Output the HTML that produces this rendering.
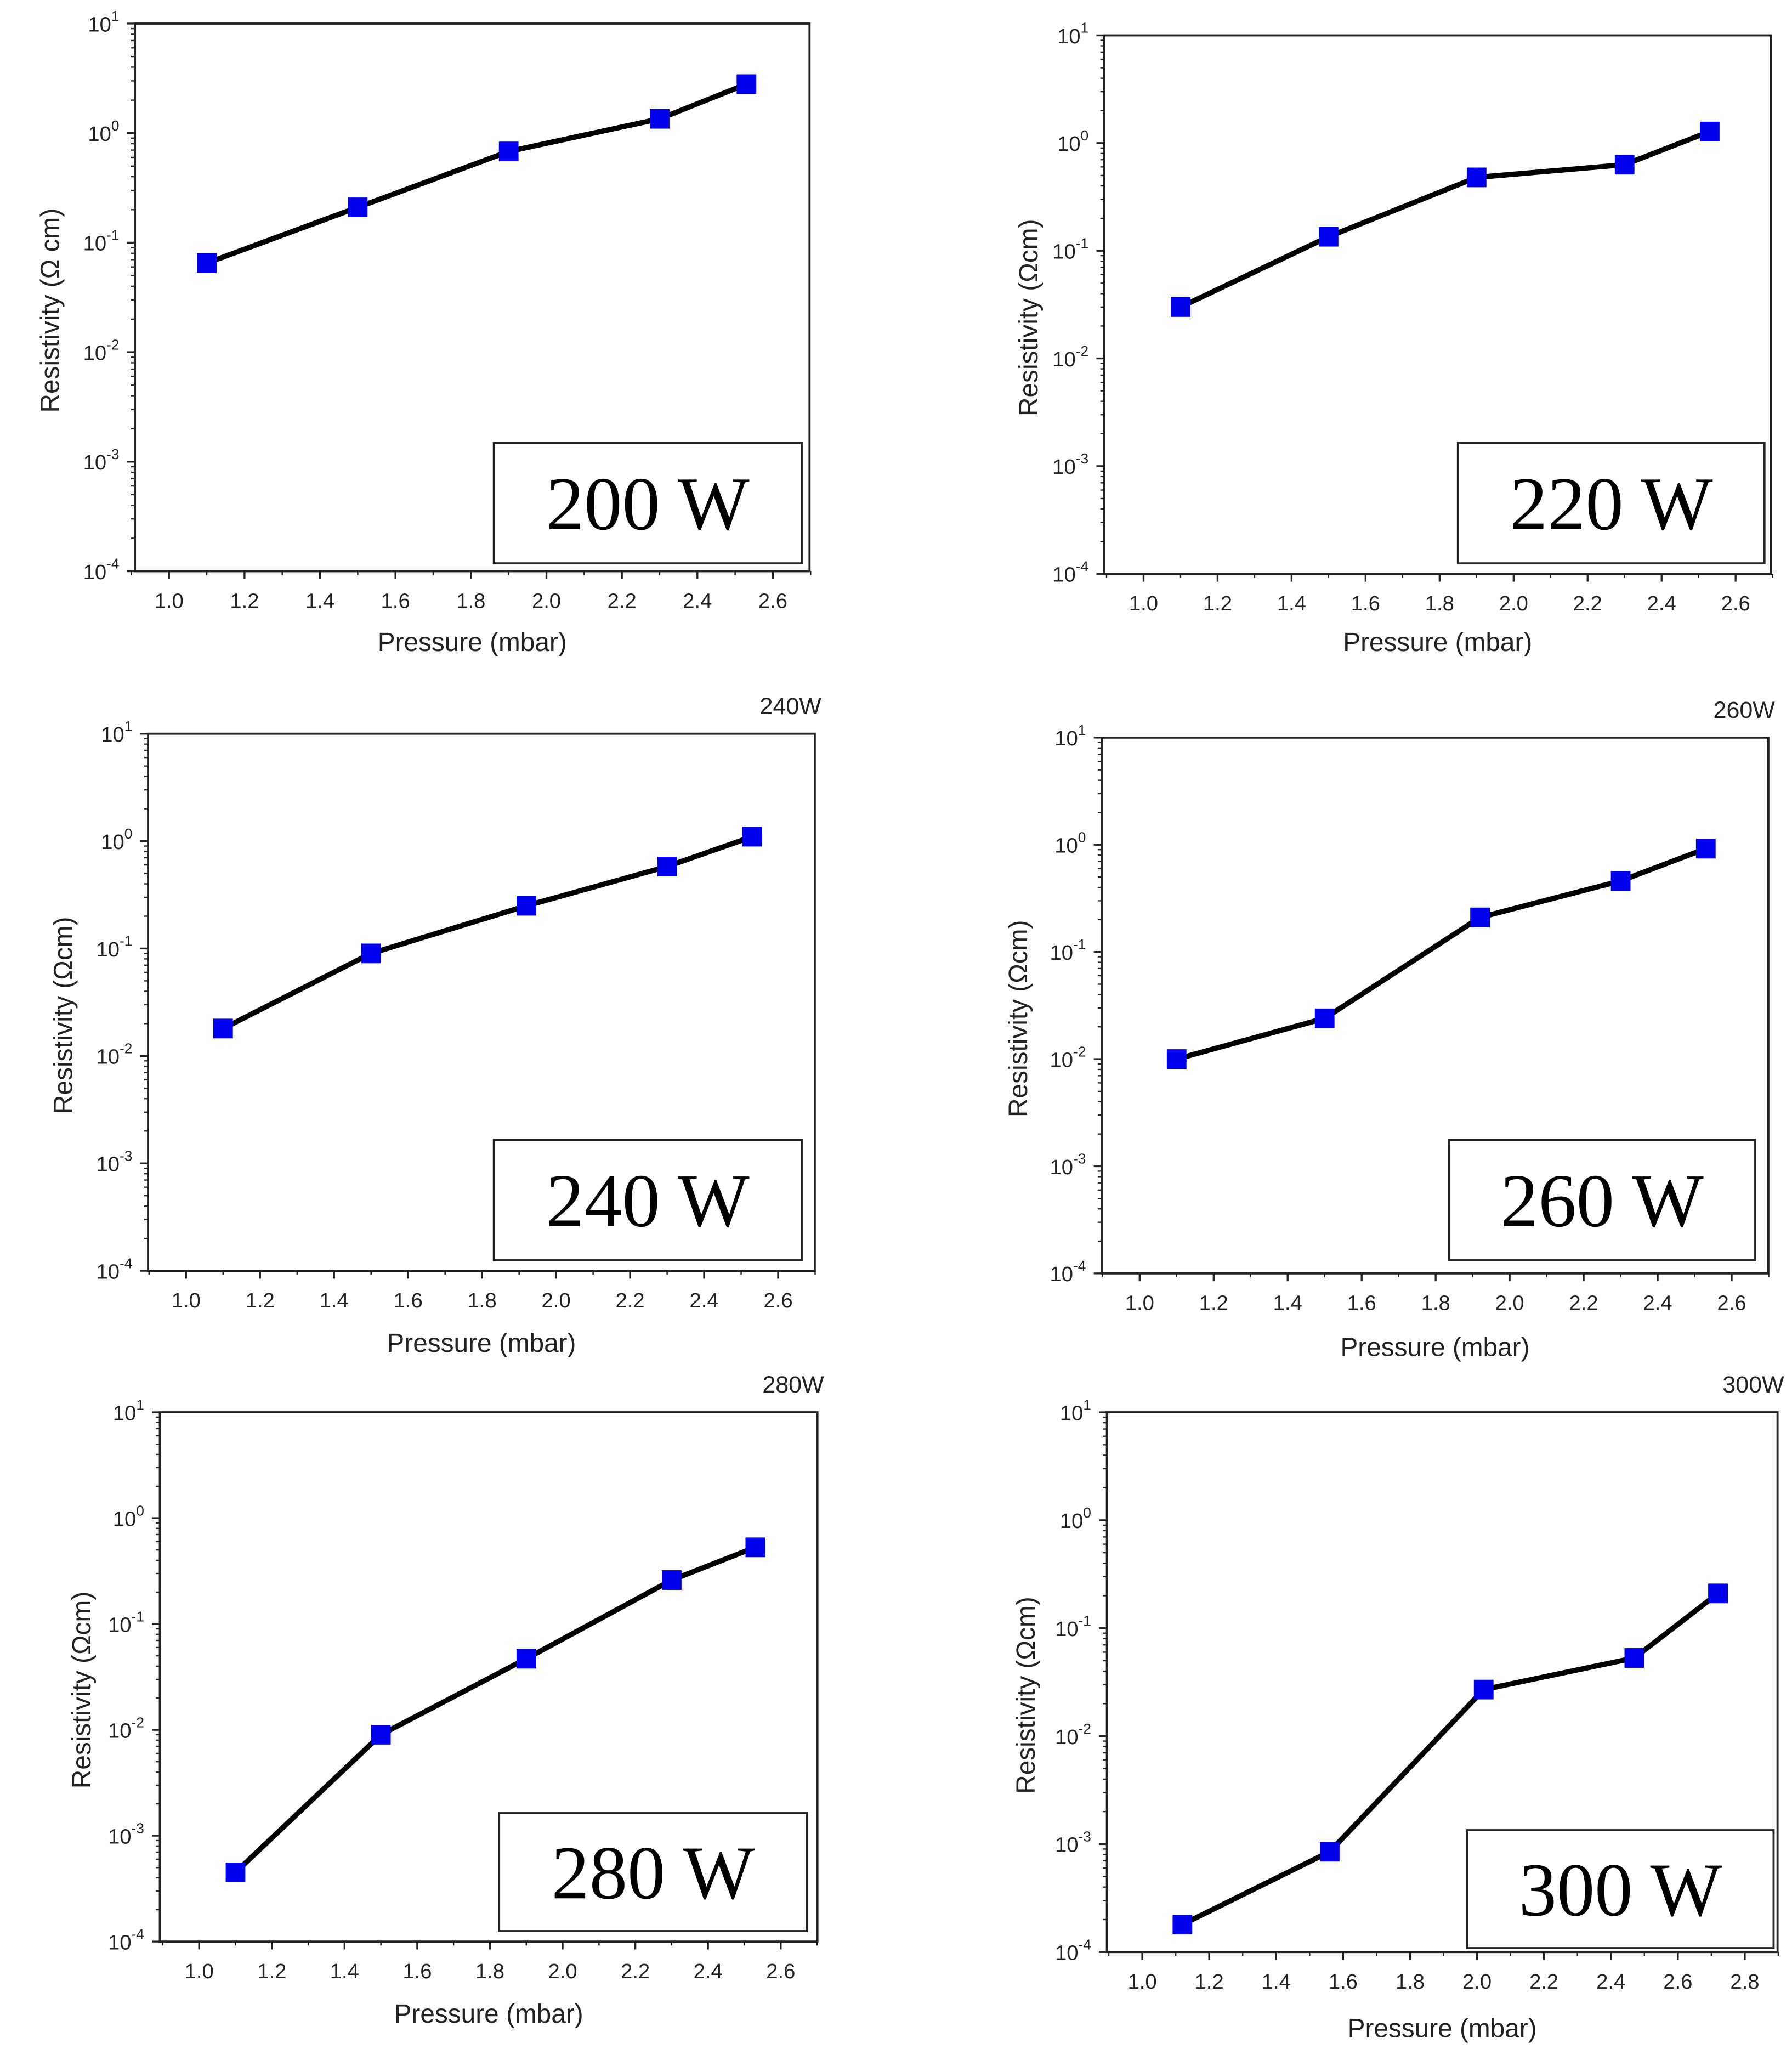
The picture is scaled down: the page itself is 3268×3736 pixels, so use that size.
<!DOCTYPE html>
<html><head><meta charset="utf-8"><style>
html,body{margin:0;padding:0;background:#fff}
svg{display:block}
text{font-family:"Liberation Sans",sans-serif;fill:#222}
</style></head><body>
<svg id="fig" width="3268" height="3736" viewBox="0 0 1368 1564" xmlns="http://www.w3.org/2000/svg"></svg>
<script>
// data per panel
const p200x=[1.1,1.5,1.9,2.3,2.53];   const p200y=[0.065,0.21,0.68,1.35,2.8];
const p220x=[1.1,1.5,1.9,2.3,2.53];   const p220y=[0.03,0.135,0.48,0.63,1.28];
const p240x=[1.1,1.5,1.92,2.3,2.53];  const p240y=[0.018,0.09,0.25,0.58,1.1];
const p260x=[1.1,1.5,1.92,2.3,2.53];  const p260y=[0.01,0.024,0.21,0.46,0.92];
const p280x=[1.1,1.5,1.9,2.3,2.53];   const p280y=[0.00045,0.009,0.047,0.26,0.53];
const p300x=[1.12,1.56,2.02,2.47,2.72]; const p300y=[0.00018,0.00085,0.027,0.053,0.21];
const xTicksA=[1.0,1.2,1.4,1.6,1.8,2.0,2.2,2.4,2.6];
const xTicksB=[1.0,1.2,1.4,1.6,1.8,2.0,2.2,2.4,2.6,2.8];
const yExps=[1,0,-1,-2,-3,-4];

const panels=[
 {id:'200',xs:p200x,ys:p200y,L:103,R:618,T:18,B:436,x0:1.0,px0:129,x1:2.6,px1:590,ticks:xTicksA,box:[377,338,612,430],label:'200 W',title:null,yl:'Resistivity (Ω cm)',ylx:38,xly:490},
 {id:'220',xs:p220x,ys:p220y,L:843,R:1352,T:27,B:438,x0:1.0,px0:873,x1:2.6,px1:1325,ticks:xTicksA,box:[1113,338,1347,430],label:'220 W',title:null,yl:'Resistivity (Ωcm)',ylx:785,xly:490},
 {id:'240',xs:p240x,ys:p240y,L:113,R:622,T:560,B:970,x0:1.0,px0:142,x1:2.6,px1:594,ticks:xTicksA,box:[377,870,612,962],label:'240 W',title:'240W',yl:'Resistivity (Ωcm)',ylx:48,xly:1025},
 {id:'260',xs:p260x,ys:p260y,L:841,R:1350,T:563,B:972,x0:1.0,px0:870,x1:2.6,px1:1322,ticks:xTicksA,box:[1106,870,1340,962],label:'260 W',title:'260W',yl:'Resistivity (Ωcm)',ylx:777,xly:1028},
 {id:'280',xs:p280x,ys:p280y,L:122,R:624,T:1078,B:1482,x0:1.0,px0:152,x1:2.6,px1:596,ticks:xTicksA,box:[381,1384,616,1474],label:'280 W',title:'280W',yl:'Resistivity (Ωcm)',ylx:62,xly:1537},
 {id:'300',xs:p300x,ys:p300y,L:845,R:1357,T:1078,B:1490,x0:1.0,px0:872,x1:2.8,px1:1332,ticks:xTicksB,box:[1120,1397,1354,1487],label:'300 W',title:'300W',yl:'Resistivity (Ωcm)',ylx:783,xly:1548}
];
const NS='http://www.w3.org/2000/svg';
const svg=document.getElementById('fig');
function mk(tag,attrs,parent){const e=document.createElementNS(NS,tag);for(const k in attrs)e.setAttribute(k,attrs[k]);(parent||svg).appendChild(e);return e;}
panels.forEach(p=>{
  const g=mk('g',{});
  
  
  const xs=v=>p.px0+(v-p.x0)*(p.px1-p.px0)/(p.x1-p.x0);
  const ys=v=>p.B-(Math.log10(v)+4)*(p.B-p.T)/5;
  const fr=mk('rect',{x:p.L,y:p.T,width:p.R-p.L,height:p.B-p.T,fill:'none',stroke:'#222','stroke-width':1.6},g);
  
  
  yExps.forEach(e=>{
    const y=ys(Math.pow(10,e));
    mk('line',{x1:p.L-6,x2:p.L,y1:y,y2:y,stroke:'#222','stroke-width':1.4},g);
    const t=mk('text',{x:p.L-12,y:y+6,'font-size':16,'text-anchor':'end'},g);
    
    
    t.innerHTML='10<tspan font-size="11" dy="-8">'+e+'</tspan>';
    if(e>-4){for(let m=2;m<=9;m++){const ym=ys(m*Math.pow(10,e-1));mk('line',{x1:p.L-3,x2:p.L,y1:ym,y2:ym,stroke:'#222','stroke-width':1},g);}}
  });
  p.ticks.forEach(v=>{
    const x=xs(v);
    mk('line',{x1:x,x2:x,y1:p.B,y2:p.B+6,stroke:'#222','stroke-width':1.4},g);
    mk('line',{x1:xs(v+0.1),x2:xs(v+0.1),y1:p.B,y2:p.B+3,stroke:'#222','stroke-width':1},g);
    const t=mk('text',{x:x,y:p.B+28,'font-size':16,'text-anchor':'middle'},g);
    
    
    t.textContent=v.toFixed(1);
  });
  mk('line',{x1:xs(p.x0-0.1),x2:xs(p.x0-0.1),y1:p.B,y2:p.B+3,stroke:'#222','stroke-width':1},g);
  const xt=mk('text',{x:(p.L+p.R)/2,y:p.xly+7,'font-size':20,'text-anchor':'middle'},g);
  
  
  xt.textContent='Pressure (mbar)';
  const cy=(p.T+p.B)/2+10;
  const yt=mk('text',{x:p.ylx+7,y:cy,'font-size':20,'text-anchor':'middle',transform:'rotate(-90 '+(p.ylx+7)+' '+cy+')'},g);
  
  
  yt.textContent=p.yl;
  if(p.title){const tt=mk('text',{x:p.R+5,y:p.T-15,'font-size':18,'text-anchor':'end'},g);
    
    
    tt.textContent=p.title;}
  const pts=p.xs.map((v,i)=>xs(v)+','+ys(p.ys[i])).join(' ');
  const ln=mk('polyline',{points:pts,fill:'none',stroke:'#000','stroke-width':4,'stroke-linejoin':'round'},g);
  
  
  p.xs.forEach((v,i)=>{
    const r=mk('rect',{x:xs(v)-7.5,y:ys(p.ys[i])-7.5,width:15,height:15,fill:'#0000ee'},g);
    
    
  });
  const b=p.box;
  const bx=mk('rect',{x:b[0],y:b[1],width:b[2]-b[0],height:b[3]-b[1],fill:'#fff',stroke:'#222','stroke-width':1.6},g);
  
  
  const bt=mk('text',{x:(b[0]+b[2])/2,y:(b[1]+b[3])/2+20,'font-size':58,'text-anchor':'middle',style:'font-family:"Liberation Serif",serif;fill:#000'},g);
  
  
  bt.textContent=p.label;
});
</script>
</body></html>
